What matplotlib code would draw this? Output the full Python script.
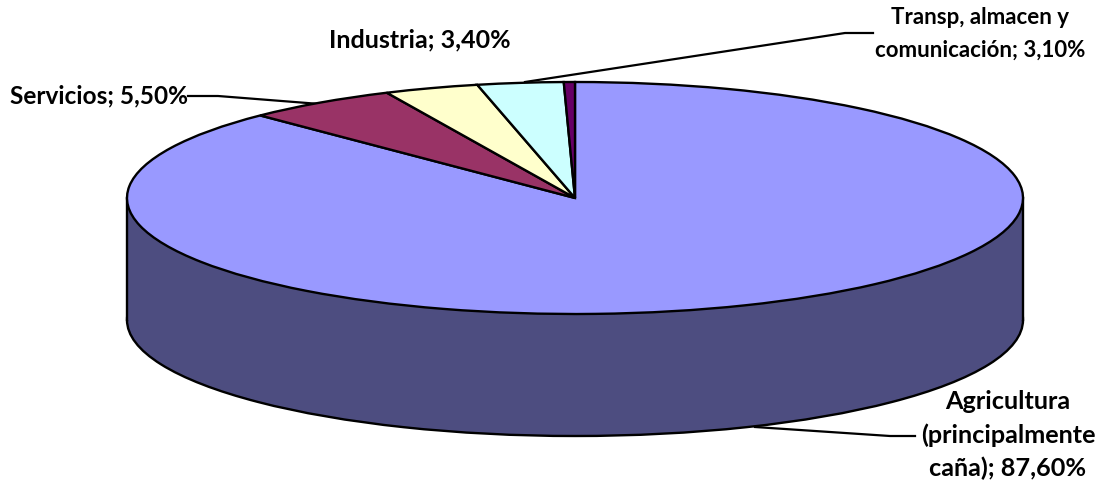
#!/usr/bin/env python3
# -*- coding: utf-8 -*-
# Pie chart with a fake 3D wall: the pie is stretched by using aspect auto
import matplotlib
matplotlib.use("Agg")
import matplotlib.pyplot as plt
from matplotlib.patches import Rectangle

plt.rcParams['font.family'] = ['Lato', 'DejaVu Sans']

sectores = ["Agricultura", "Servicios", "Industria", "Transp", "Otros"]
valores = [87.6, 5.5, 3.4, 3.1, 0.4]
colores = ["#9999FF", "#993366", "#FFFFCC", "#CCFFFF", "#660066"]
color_pared = "#4D4D80"
etiquetas = ["Agricultura\n(principalmente\ncaña); 87,60%", "Servicios; 5,50%",
             "Industria; 3,40%", "Transp, almacen y\ncomunicación; 3,10%"]

W, H = 1101, 484
CX, CY, RX, RY, PROF = 575, 198, 448, 116, 122


# pixel of the reference -> axes data, where the pie has radius 1
def px(x, y):
    return (x - CX) / RX, (CY - y) / RY


fig = plt.figure(figsize=(W / 100, H / 100), dpi=100)
ax = fig.add_axes([0, 0, 1, 1])

borde = {"edgecolor": "black", "linewidth": 1.7}
prof = PROF / RY

# bottom of the cylinder, then the wall, then the top
ax.pie([sum(valores)], colors=[color_pared], startangle=90, counterclock=False, radius=1,
       center=(0, -prof), wedgeprops=dict(borde, zorder=1))
ax.add_patch(Rectangle((-1, -prof), 2, prof, facecolor=color_pared, edgecolor="none", zorder=2))
ax.plot([-1, -1], [0, -prof], color="black", lw=1.7, zorder=3)
ax.plot([1, 1], [0, -prof], color="black", lw=1.7, zorder=3)
ax.pie(valores, colors=colores, startangle=90, counterclock=False, radius=1,
       wedgeprops=dict(borde, zorder=4, joinstyle="miter"))

ax.set_aspect("auto")
ax.set_xlim(px(0, 0)[0], px(W, 0)[0])
ax.set_ylim(px(0, H)[1], px(0, 0)[1])
ax.axis("off")

# leader lines
lineas = [
    [(755, 427), (890, 436), (915, 436)],
    [(188, 96), (218, 96), (320, 104)],
    [(525, 82), (845, 33), (873, 33)],
]
for ln in lineas:
    pts = [px(*p) for p in ln]
    ax.plot([p[0] for p in pts], [p[1] for p in pts], color="black", lw=1.6, zorder=3.5)

pos = [(1008, 435, 18.2, 1.52), (99, 96, 17.6, 1.2), (420, 40, 18, 1.2), (980, 34, 16, 1.65)]
for t, (x, y, fs, esp) in zip(etiquetas, pos):
    xd, yd = px(x, y)
    ax.text(xd, yd, t, ha="center", va="center", fontsize=fs, fontweight="bold",
            color="black", linespacing=esp, zorder=6)

fig.savefig("out.png", dpi=100)
